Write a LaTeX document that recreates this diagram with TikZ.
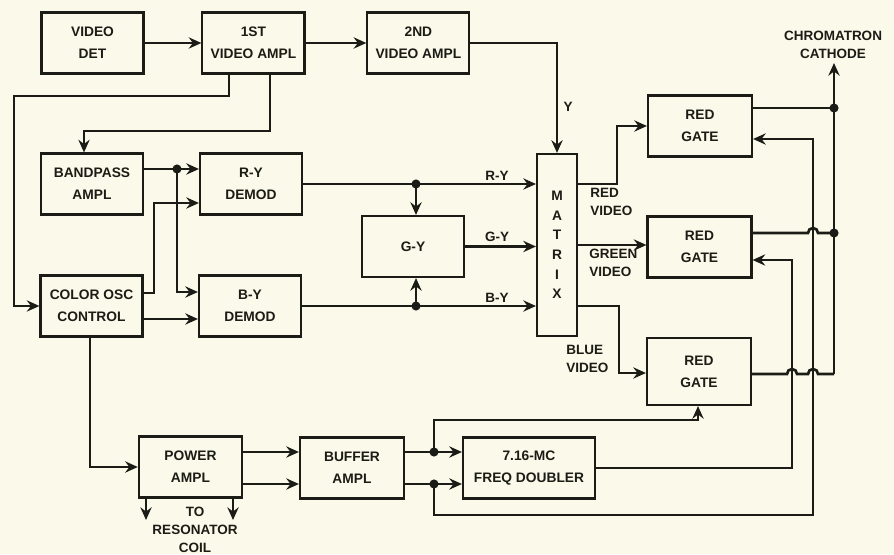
\documentclass[tikz,border=0pt]{standalone}
\usepackage{fontspec}
\setmainfont{Liberation Sans}
\usetikzlibrary{positioning,arrows.meta}

\definecolor{paper}{RGB}{251,249,234}
\definecolor{ink}{RGB}{28,28,22}
\newcommand{\blkfont}{\fontsize{9.8}{15.5}\selectfont\bfseries}
\newcommand{\mtxfont}{\fontsize{9.8}{14}\selectfont\bfseries}
\newcommand{\lblfont}{\fontsize{9.6}{13}\selectfont\bfseries}

\begin{document}
\begin{tikzpicture}[
			x=0.025cm, y=0.025cm,
			blk/.style={draw=ink, line width=1.5pt, rectangle, minimum width=2.55cm, minimum height=1.525cm, align=center, text=ink, font=\blkfont, inner sep=1pt},
			wire/.style={draw=ink, line width=1.9pt},
			sig/.style={wire, -{Stealth[length=9pt,width=8pt,inset=3pt]}},
			jdot/.style={circle, fill=ink, inner sep=0pt, minimum size=6.5pt},
			tag/.style={font=\lblfont, text=ink, inner sep=0pt}
			]
			
			% Paper
			\fill[paper] (0,0) rectangle (894,554);
			\useasboundingbox (0,0) rectangle (894,554);
			
			% Video chain
			\node[blk] (vdet) at (92.5,511) {VIDEO\\DET};
			\node[blk, right=1.42cm of vdet] (amp1) {1ST\\VIDEO AMPL};
			\node[blk, right=1.52cm of amp1] (amp2) {2ND\\VIDEO AMPL};
			
			% Chroma blocks
			\node[blk] (bpass) at (92,370) {BANDPASS\\AMPL};
			\node[blk] (rydem) at (251,370) {R-Y\\DEMOD};
			\node[blk] (osc) at (91.5,248) {COLOR OSC\\CONTROL};
			\node[blk] (bydem) at (250,248) {B-Y\\DEMOD};
			\node[blk] (gy) at (413,307.5) {G-Y};
			\node[blk, minimum width=1cm, minimum height=4.55cm, font=\mtxfont] (matrix) at (557,309) {M\\A\\T\\R\\I\\X};
			
			% Gates
			\node[blk, minimum width=2.6cm] (gate1) at (700,428) {RED\\GATE};
			\node[blk, minimum width=2.6cm] (gate2) at (699.5,307) {RED\\GATE};
			\node[blk, minimum width=2.6cm, minimum height=1.675cm] (gate3) at (699,182.5) {RED\\GATE};
			
			% Lower row
			\node[blk, minimum width=2.58cm] (pwr) at (190.5,87) {POWER\\AMPL};
			\node[blk, minimum width=2.6cm] (buf) at (352,86) {BUFFER\\AMPL};
			\node[blk, minimum width=3.3cm] (dbl) at (529,86) {7.16-MC\\FREQ DOUBLER};
			
			% Free ends and junctions
			\coordinate (bpdot) at (177,385);
			\coordinate (cath) at (834,491);
			\coordinate (busend) at (834,180);
			\coordinate (coilA) at (146,34);
			\coordinate (coilB) at (233,34);
			
			% Video connections
			\draw[sig] (vdet) -- (amp1);
			\draw[sig] (amp1) -- (amp2);
			\draw[sig] (amp2.east) -| (matrix.north);
			\draw[sig] (229,0 |- amp1.south) |- (14,458) |- (osc.west);
			\draw[sig] (270,0 |- amp1.south) |- (84,423) -- (84,0 |- bpass.north);
			
			% Demodulators
			\draw[sig] (bpass.east |- bpdot) -- (rydem.west |- bpdot);
			\draw[sig] (bpdot) |- (bydem.west |- 0,262);
			\draw[sig] (osc.east |- 0,261) -| (154,351) -- (rydem.west |- 0,351);
			\draw[sig] (osc.east |- 0,235) -- (bydem.west |- 0,235);
			
			% Color difference signals into matrix
			\draw[sig] (rydem.east) -- (matrix.west |- rydem.east);
			\draw[sig] (bydem.east) -- (matrix.west |- bydem.east);
			\draw[sig] (gy.east) -- (matrix.west |- gy.east);
			\draw[sig] (416,0 |- rydem.east) -- (416,0 |- gy.north);
			\draw[sig] (416,0 |- bydem.east) -- (416,0 |- gy.south);
			
			% Matrix outputs to gates
			\draw[sig] (matrix.east |- 0,370) -| (617,428) -- (gate1.west);
			\draw[sig] (matrix.east |- 0,309) -- (gate2.west |- 0,309);
			\draw[sig] (matrix.east |- 0,248) -| (619,181) -- (gate3.west |- 0,181);
			
			% Gate outputs to cathode (with hops)
			\draw[sig] (busend) -- (cath);
			\draw[wire] (gate1.east |- 0,446) -- (834,446);
			\draw[wire] (gate2.east |- 0,321) -- (808,321) arc[start angle=180, end angle=0, radius=5] -- (834,321);
			\draw[wire] (gate3.east |- 0,180) -- (787,180) arc[start angle=180, end angle=0, radius=5] -- (808,180) arc[start angle=180, end angle=0, radius=5] -- (busend);
			
			% Power ampl chain
			\draw[sig] (90,0 |- osc.south) |- (pwr.west);
			\draw[sig] (pwr.east |- 0,102) -- (buf.west |- 0,102);
			\draw[sig] (pwr.east |- 0,70) -- (buf.west |- 0,70);
			\draw[sig] (buf.east |- 0,102) -- (dbl.west |- 0,102);
			\draw[sig] (buf.east |- 0,70) -- (dbl.west |- 0,70);
			\draw[sig] (coilA |- pwr.south) -- (coilA);
			\draw[sig] (coilB |- pwr.south) -- (coilB);
			
			% Gate drive lines
			\draw[sig] (434,102) |- (698,134) -- (698,0 |- gate3.south);
			\draw[sig] (434,70) |- (813,39) |- (gate1.east |- 0,415);
			\draw[sig] (dbl.east) -| (792,294) -- (gate2.east |- 0,294);
			
			% Junction dots
			\node[jdot] (bpj) at (bpdot) {};
			\node[jdot] (ryj) at (416,370) {};
			\node[jdot] (byj) at (416,248) {};
			\node[jdot] (j1) at (834,446) {};
			\node[jdot] (j2) at (834,321) {};
			\node[jdot] (bj1) at (434,102) {};
			\node[jdot] (bj2) at (434,70) {};
			
			% Labels
			\node[tag] (ylbl) at (568,447) {Y};
			\node[tag] (rylbl) at (497,378) {R-Y};
			\node[tag] (gylbl) at (497,317) {G-Y};
			\node[tag] (bylbl) at (497,256) {B-Y};
			\node[tag, align=left, anchor=west] (redv) at (590,352) {RED\\VIDEO};
			\node[tag, align=left, anchor=west] (greenv) at (589,291) {GREEN\\VIDEO};
			\node[tag, align=left, anchor=west] (bluev) at (566,195) {BLUE\\VIDEO};
			\node[tag, align=center] (cathlbl) at (833,509) {CHROMATRON\\CATHODE};
			\node[tag, align=center] (coil) at (195,24) {TO\\RESONATOR\\COIL};
			
		\end{tikzpicture}
\end{document}
